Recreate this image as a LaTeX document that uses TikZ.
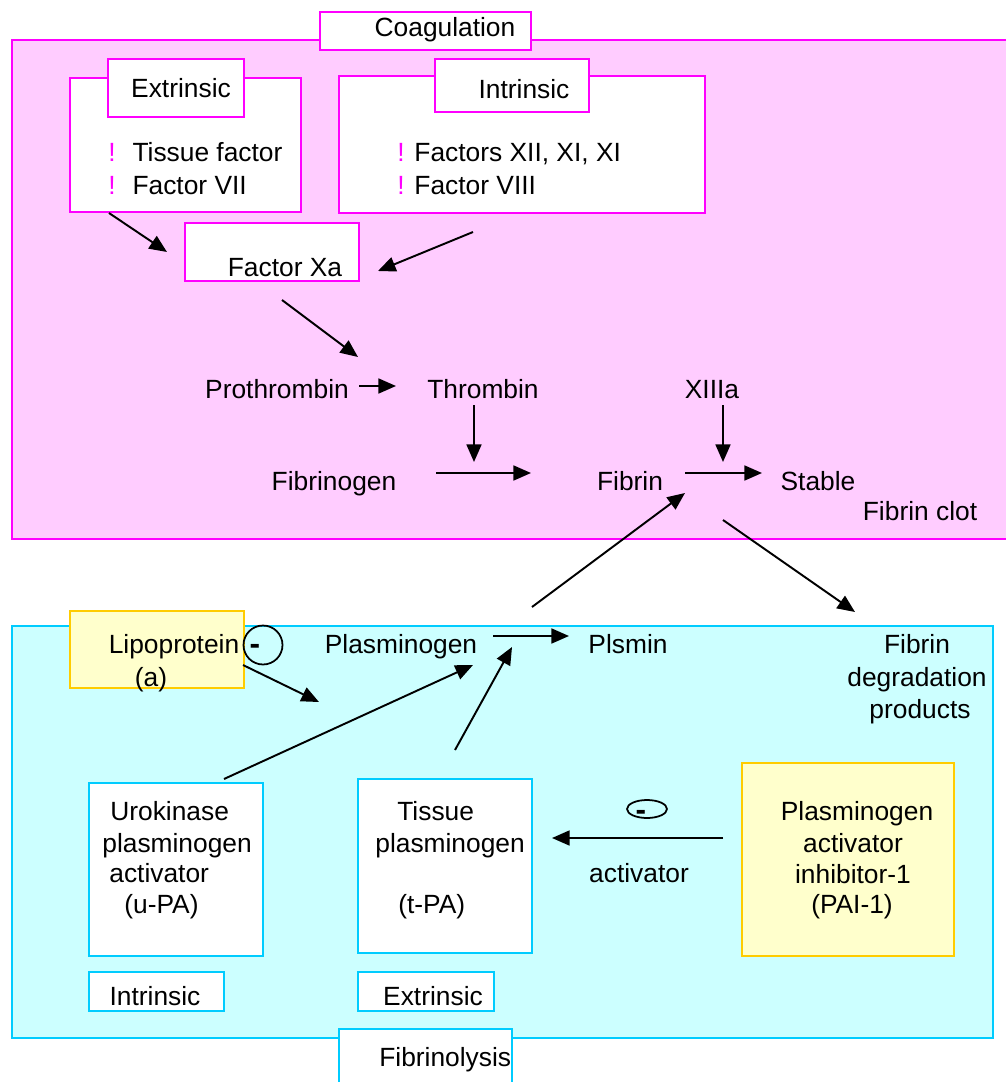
\documentclass[tikz,border=0pt]{standalone}
\usepackage{fontspec}
\setmainfont{Liberation Sans}
\usepackage{tikz}
\usetikzlibrary{arrows,arrows.meta,shapes.geometric}

\definecolor{coagfill}{RGB}{255,204,255}
\definecolor{coagline}{RGB}{255,0,255}
\definecolor{lysisfill}{RGB}{204,255,255}
\definecolor{lysisline}{RGB}{0,204,255}
\definecolor{lpafill}{RGB}{255,255,204}
\definecolor{lpaline}{RGB}{255,204,0}

\begin{document}
\begin{tikzpicture}[x=0.02cm, y=-0.02cm,
txt/.style={font=\fontsize{15}{18}\selectfont, inner sep=0pt, anchor=base},
txtw/.style={txt, anchor=base west},
minussign/.style={font=\fontsize{18}{18}\selectfont\bfseries, inner sep=0pt, anchor=base},
coagbox/.style={draw=coagline, fill=coagfill, line width=1.1pt},
coagtitle/.style={draw=coagline, fill=white, line width=1.1pt},
lysisbox/.style={draw=lysisline, fill=lysisfill, line width=1.1pt},
lysistitle/.style={draw=lysisline, fill=white, line width=1.1pt},
lpabox/.style={draw=lpaline, fill=lpafill, line width=1.1pt},
inhib/.style={draw, line width=1pt, inner sep=0pt},
arrow/.style={-{Triangle[length=10pt,width=8.5pt]}, line width=1.1pt} ]

\useasboundingbox (0,0) rectangle (1005,1082);

% coagulation panel
\draw[coagbox] (12,40) rectangle (1030,539);
\draw[coagtitle] (320,12) rectangle (531,50);
\node[txt](coag) at (445,36) {Coagulation};

\draw[coagtitle] (70,78) rectangle (301,212);
\draw[coagtitle] (108,59) rectangle (244,117);
\node[txt](cextr) at (181,97) {Extrinsic};
\node[txtw](tf) at (108,161) {{\color{coagline}!}\hspace{9.6pt}Tissue factor};
\node[txtw](f7) at (108,194) {{\color{coagline}!}\hspace{9.6pt}Factor VII};

\draw[coagtitle] (339,76) rectangle (705,213);
\draw[coagtitle] (435,59) rectangle (589,112);
\node[txt](cintr) at (524,98) {Intrinsic};
\node[txtw](f12) at (397,161) {{\color{coagline}!} Factors XII, XI, XI};
\node[txtw](f8) at (397,194) {{\color{coagline}!} Factor VIII};

\draw[coagtitle] (185,223) rectangle (359,281);
\node[txt](xa) at (285,276) {Factor Xa};

\node[txt](prothr) at (277,398) {Prothrombin};
\node[txt](thromb) at (483,398) {Thrombin};
\node[txt](f13) at (712,398) {XIIIa};
\node[txt](fgen) at (334,490) {Fibrinogen};
\node[txt](fibrin) at (630,490) {Fibrin};
\node[txt](stable) at (818,490) {Stable};
\node[txt](clot) at (920,520) {Fibrin clot};

% fibrinolysis panel
\draw[lysisbox] (12,626) rectangle (993,1038);
\draw[lysistitle] (339,1029) rectangle (512,1110);
\node[txtw](lysis) at (379,1066) {Fibrinolysis};

\draw[lpabox] (70,611) rectangle (244,688);
\node[txt](lpa) at (174,653) {Lipoprotein};
\node[txt](lpa2) at (151,686) {(a)};
\node[inhib, circle, minimum size=0.78cm](lpaminus) at (263,645) {};
\node[minussign](lpadash) at (255,654) {-};

\node[txt](plgen) at (401,653) {Plasminogen};
\node[txt](plmin) at (628,653) {Plsmin};
\node[txt](fdp1) at (917,653) {Fibrin};
\node[txt](fdp2) at (917,686) {degradation};
\node[txt](fdp3) at (920,718) {products};

\draw[lysistitle] (89,783) rectangle (263,956);
\node[txtw](upa1) at (110,820) {Urokinase};
\node[txtw](upa2) at (102,852) {plasminogen};
\node[txtw](upa3) at (109,882) {activator};
\node[txtw](upa4) at (124,913) {(u-PA)};

\draw[lysistitle] (358,779) rectangle (532,953);
\node[txtw](tpa1) at (397,820) {Tissue};
\node[txtw](tpa2) at (375,852) {plasminogen};
\node[txtw](tpa3) at (398,913) {(t-PA)};

\draw[lpabox] (742,763) rectangle (954,956);
\node[txt](pai1) at (857,820) {Plasminogen};
\node[txt](pai2) at (853,852) {activator};
\node[txt](pai3) at (853,883) {inhibitor-1};
\node[txt](pai4) at (852,913) {(PAI-1)};
\node[inhib, ellipse, minimum width=0.8cm, minimum height=0.36cm](paiminus) at (647,809) {};
\node[minussign](paidash) at (641,820) {-};
\node[txt](act) at (639,882) {activator};

\draw[lysistitle] (89,972) rectangle (224,1011);
\node[txt](lintr) at (155,1005) {Intrinsic};
\draw[lysistitle] (358,972) rectangle (494,1011);
\node[txt](lextr) at (433,1005) {Extrinsic};

% arrow ends
\coordinate (e1) at (109,213);  \coordinate (e2) at (167,252);
\coordinate (i1) at (473,232);  \coordinate (i2) at (378,271);
\coordinate (x1) at (282,300);  \coordinate (x2) at (358,357);
\coordinate (p1) at (359,386);  \coordinate (p2) at (396,386);
\coordinate (t1) at (474,405);  \coordinate (t2) at (474,462);
\coordinate (g1) at (436,473);  \coordinate (g2) at (531,473);
\coordinate (s1) at (723,405);  \coordinate (s2) at (723,462);
\coordinate (f1) at (685,473);  \coordinate (f2) at (762,473);
\coordinate (m1) at (532,607);  \coordinate (m2) at (685,493);
\coordinate (d1) at (723,520);  \coordinate (d2) at (855,612);
\coordinate (n1) at (493,636);  \coordinate (n2) at (569,636);
\coordinate (l1) at (243,665);  \coordinate (l2) at (319,702);
\coordinate (u1) at (224,779);  \coordinate (u2) at (473,665);
\coordinate (k1) at (455,750);  \coordinate (k2) at (512,647);
\coordinate (q1) at (723,838);  \coordinate (q2) at (552,838);

\draw[arrow] (e1) -- (e2);
\draw[arrow] (i1) -- (i2);
\draw[arrow] (x1) -- (x2);
\draw[arrow] (p1) -- (p2);
\draw[arrow] (t1) -- (t2);
\draw[arrow] (g1) -- (g2);
\draw[arrow] (s1) -- (s2);
\draw[arrow] (f1) -- (f2);
\draw[arrow] (m1) -- (m2);
\draw[arrow] (d1) -- (d2);
\draw[arrow] (n1) -- (n2);
\draw[arrow] (l1) -- (l2);
\draw[arrow] (u1) -- (u2);
\draw[arrow] (k1) -- (k2);
\draw[arrow] (q1) -- (q2);
\end{tikzpicture}
\end{document}
